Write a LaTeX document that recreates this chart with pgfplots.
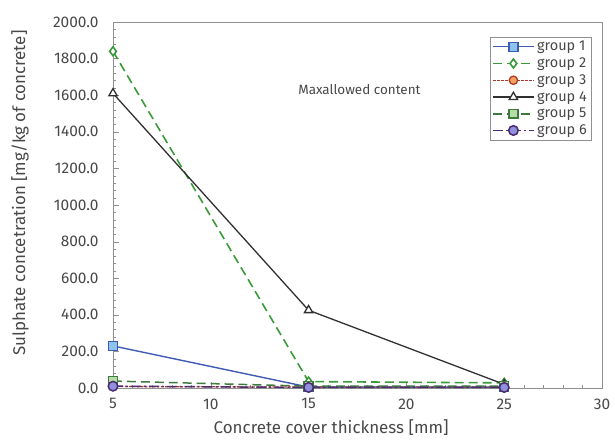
\documentclass[border=0pt]{standalone}
\usepackage{pgfplots}
\pgfplotsset{compat=1.18}
\usepackage{fontspec}
\setmainfont{Fira Sans}
\definecolor{txt}{HTML}{484848}
\definecolor{ax}{HTML}{909090}
\definecolor{g1}{HTML}{3F5BB5}
\definecolor{g1f}{HTML}{8CC4EE}
\definecolor{g2}{HTML}{3A9A3A}
\definecolor{g3}{HTML}{B03A2A}
\definecolor{g3f}{HTML}{F0A060}
\definecolor{g4}{HTML}{303030}
\definecolor{g5}{HTML}{3E7A3E}
\definecolor{g5f}{HTML}{B8DCA8}
\definecolor{g6}{HTML}{4A2A70}
\definecolor{g6f}{HTML}{9090DC}
\begin{document}
\begin{tikzpicture}
\useasboundingbox (-113bp,-53bp) rectangle (502bp,388bp);
\begin{axis}[
  at={(0,0)}, anchor=south west,
  scale only axis,
  width=489bp, height=366bp,
  xmin=5, xmax=30, ymin=0, ymax=2000,
  xtick={5,10,15,20,25,30},
  ytick={0,200,...,2000},
  minor x tick num=4, minor y tick num=4,
  xtick pos=left, ytick pos=left,
  yticklabel style={xshift=-11bp, /pgf/number format/.cd,fixed,fixed zerofill,precision=1,1000 sep={}},
  xticklabel style={yshift=-7bp},
  /pgf/number format/assume math mode=true,
  tick label style={font=\fontsize{15.5}{17}\selectfont, text=txt},
  label style={font=\fontsize{17}{19}\selectfont, text=txt},
  xlabel={Concrete cover thickness [mm]},
  ylabel={Sulphate concetration [mg/kg of concrete]},
  xlabel style={at={(axis description cs:0.446,-0.109)}, anchor=center},
  ylabel style={at={(axis description cs:-0.190,0.533)}, anchor=center},
  axis line style={ax, line width=0.8pt},
  tick style={ax},
  major tick length=6pt, minor tick length=3.5pt,
  tick align=inside,
  legend style={at={(0.9775,0.959)}, anchor=north east, draw=ax, font=\fontsize{14.5}{17}\selectfont, text=txt, row sep=1.5pt, inner sep=2pt},
  legend cell align=left,
  legend image code/.code={\draw[mark repeat=2,mark phase=2] plot coordinates {(0bp,0bp) (20bp,0bp) (41bp,0bp)};},
  clip=false,
]
\addplot[color=g1, line width=1.4pt, mark=square*, mark size=4.5pt, mark options={solid, fill=g1f, draw=g1}] coordinates {(5,230) (15,5) (25,5)};
\addlegendentry{group 1}
\addplot[color=g2, line width=1.6pt, dash pattern=on 9pt off 5pt, mark=diamond*, mark size=4.5pt, mark options={solid, fill=white, draw=g2}] coordinates {(5,1840) (15,35) (25,28)};
\addlegendentry{group 2}
\addplot[color=g3, line width=1.3pt, dash pattern=on 2.5pt off 1.5pt, mark=*, mark size=4.2pt, mark options={solid, fill=g3f, draw=g3}] coordinates {(5,8) (15,5) (25,5)};
\addlegendentry{group 3}
\addplot[color=g4, line width=1.3pt, mark=triangle*, mark size=4.8pt, mark options={solid, fill=white, draw=g4}] coordinates {(5,1610) (15,425) (25,20)};
\addlegendentry{group 4}
\addplot[color=g5, line width=1.5pt, dash pattern=on 9pt off 5pt, mark=square*, mark size=4.5pt, mark options={solid, fill=g5f, draw=g5}] coordinates {(5,38) (15,10) (25,10)};
\addlegendentry{group 5}
\addplot[color=g6, line width=1.5pt, dash pattern=on 10pt off 3pt on 2pt off 3pt, mark=*, mark size=4.8pt, mark options={solid, fill=g6f, draw=g6}] coordinates {(5,10) (15,3) (25,3)};
\addlegendentry{group 6}
\node[font=\fontsize{13.5}{15}\selectfont, text=txt] at (axis cs:17.6,1630) {Maxallowed content};
\end{axis}
\end{tikzpicture}
\end{document}
